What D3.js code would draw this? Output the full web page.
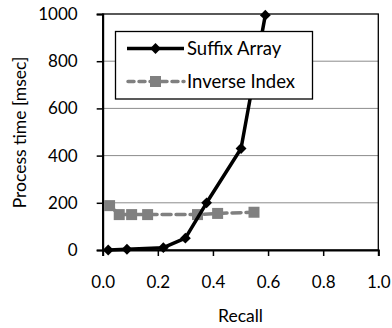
<!DOCTYPE html>
<html><head><meta charset="utf-8">
<script src="https://cdn.jsdelivr.net/npm/d3@7"></script>
<style>body{margin:0;background:#fff}svg{display:block}</style>
</head><body><svg id="c" width="392" height="328"></svg>
<script>
const suffixRecall = [0.02, 0.088, 0.22, 0.30, 0.377, 0.502, 0.59];
const suffixTime   = [0, 3, 10, 50, 200, 430, 995];
const inverseRecall = [0.025, 0.06, 0.105, 0.163, 0.344, 0.417, 0.549];
const inverseTime   = [188, 150, 150, 150, 150, 155, 160];
const xTicks = [0, 0.2, 0.4, 0.6, 0.8, 1.0];
const yTicks = [0, 200, 400, 600, 800, 1000];
const seriesNames = ["Suffix Array", "Inverse Index"];

const font = "Lato, 'Open Sans', sans-serif";
const svg = d3.select("#c");
const L = 102.7, R = 378.3, T = 14, B = 250;
const x = d3.scaleLinear().domain([0, 1]).range([L, R]);
const y = d3.scaleLinear().domain([0, 1000]).range([B, T]);

// gridlines
svg.append("g").selectAll("line").data(yTicks.filter(v => v > 0 && v < 1000)).join("line")
  .attr("x1", L).attr("x2", R).attr("y1", d => y(d)).attr("y2", d => y(d))
  .attr("stroke", "#8c8c8c").attr("stroke-width", 1);

// border
svg.append("rect").attr("x", L).attr("y", T).attr("width", R - L).attr("height", B - T)
  .attr("fill", "none").attr("stroke", "#000").attr("stroke-width", 1.3);

// axes
const xAxis = svg.append("g").attr("transform", `translate(0,${B})`)
  .call(d3.axisBottom(x).tickValues(xTicks).tickFormat(d3.format(".1f")).tickSize(6).tickPadding(18));
const yAxis = svg.append("g").attr("transform", `translate(${L},0)`)
  .call(d3.axisLeft(y).tickValues(yTicks).tickFormat(d3.format("d")).tickSize(6).tickPadding(19));
[xAxis, yAxis].forEach(g => {
  g.select(".domain").attr("stroke", "#000").attr("stroke-width", 2);
  g.selectAll(".tick line").attr("stroke", "#000").attr("stroke-width", 1.5);
  g.selectAll(".tick text").attr("font-family", font).attr("font-size", 17).attr("fill", "#000");
});
xAxis.selectAll(".tick text").attr("dy", "0.85em");

// axis titles
svg.append("text").attr("x", (L + R) / 2).attr("y", 322).attr("text-anchor", "middle")
  .attr("font-family", font).attr("font-size", 17.5).text("Recall");
svg.append("text").attr("transform", "translate(26,132.5) rotate(-90)").attr("text-anchor", "middle")
  .attr("font-family", font).attr("font-size", 17.5).text("Process time [msec]");

const line = d3.line();
const sPts = suffixRecall.map((r, i) => [x(r), y(suffixTime[i])]);
const iPts = inverseRecall.map((r, i) => [x(r), y(inverseTime[i])]);

// inverse index series
svg.append("path").attr("d", line(iPts)).attr("fill", "none").attr("stroke", "#808080")
  .attr("stroke-width", 3.5).attr("stroke-dasharray", "9,5").attr("stroke-linecap", "round");
svg.append("g").selectAll("rect").data(iPts).join("rect")
  .attr("x", d => d[0] - 5.5).attr("y", d => d[1] - 5.5).attr("width", 11).attr("height", 11)
  .attr("fill", "#808080");

// suffix array series
svg.append("path").attr("d", line(sPts)).attr("fill", "none").attr("stroke", "#000")
  .attr("stroke-width", 3.5).attr("stroke-linejoin", "round");
const diamond = d3.symbol().type(d3.symbolDiamond2).size(75);
svg.append("g").selectAll("path").data(sPts).join("path")
  .attr("d", diamond).attr("transform", d => `translate(${d[0]},${d[1]})`).attr("fill", "#000");

// legend
const lg = svg.append("g");
lg.append("rect").attr("x", 115.5).attr("y", 31.5).attr("width", 197).attr("height", 67.5)
  .attr("fill", "#fff").attr("stroke", "#000").attr("stroke-width", 1.3);
const legY = [48.5, 81.5];
lg.append("line").attr("x1", 127).attr("x2", 184).attr("y1", legY[0]).attr("y2", legY[0])
  .attr("stroke", "#000").attr("stroke-width", 3.5);
lg.append("path").attr("d", diamond).attr("transform", `translate(155.5,${legY[0]})`).attr("fill", "#000");
lg.append("line").attr("x1", 128).attr("x2", 184).attr("y1", legY[1]).attr("y2", legY[1])
  .attr("stroke", "#808080").attr("stroke-width", 3.5).attr("stroke-dasharray", "6,5").attr("stroke-linecap", "round");
lg.append("rect").attr("x", 150).attr("y", legY[1] - 5.5).attr("width", 11).attr("height", 11).attr("fill", "#808080");
lg.selectAll("text.lt").data(seriesNames).join("text").attr("class", "lt")
  .attr("x", 187).attr("y", (d, i) => legY[i]).attr("dy", "0.35em")
  .attr("font-family", font).attr("font-size", 18.5).text(d => d);
</script></body></html>
